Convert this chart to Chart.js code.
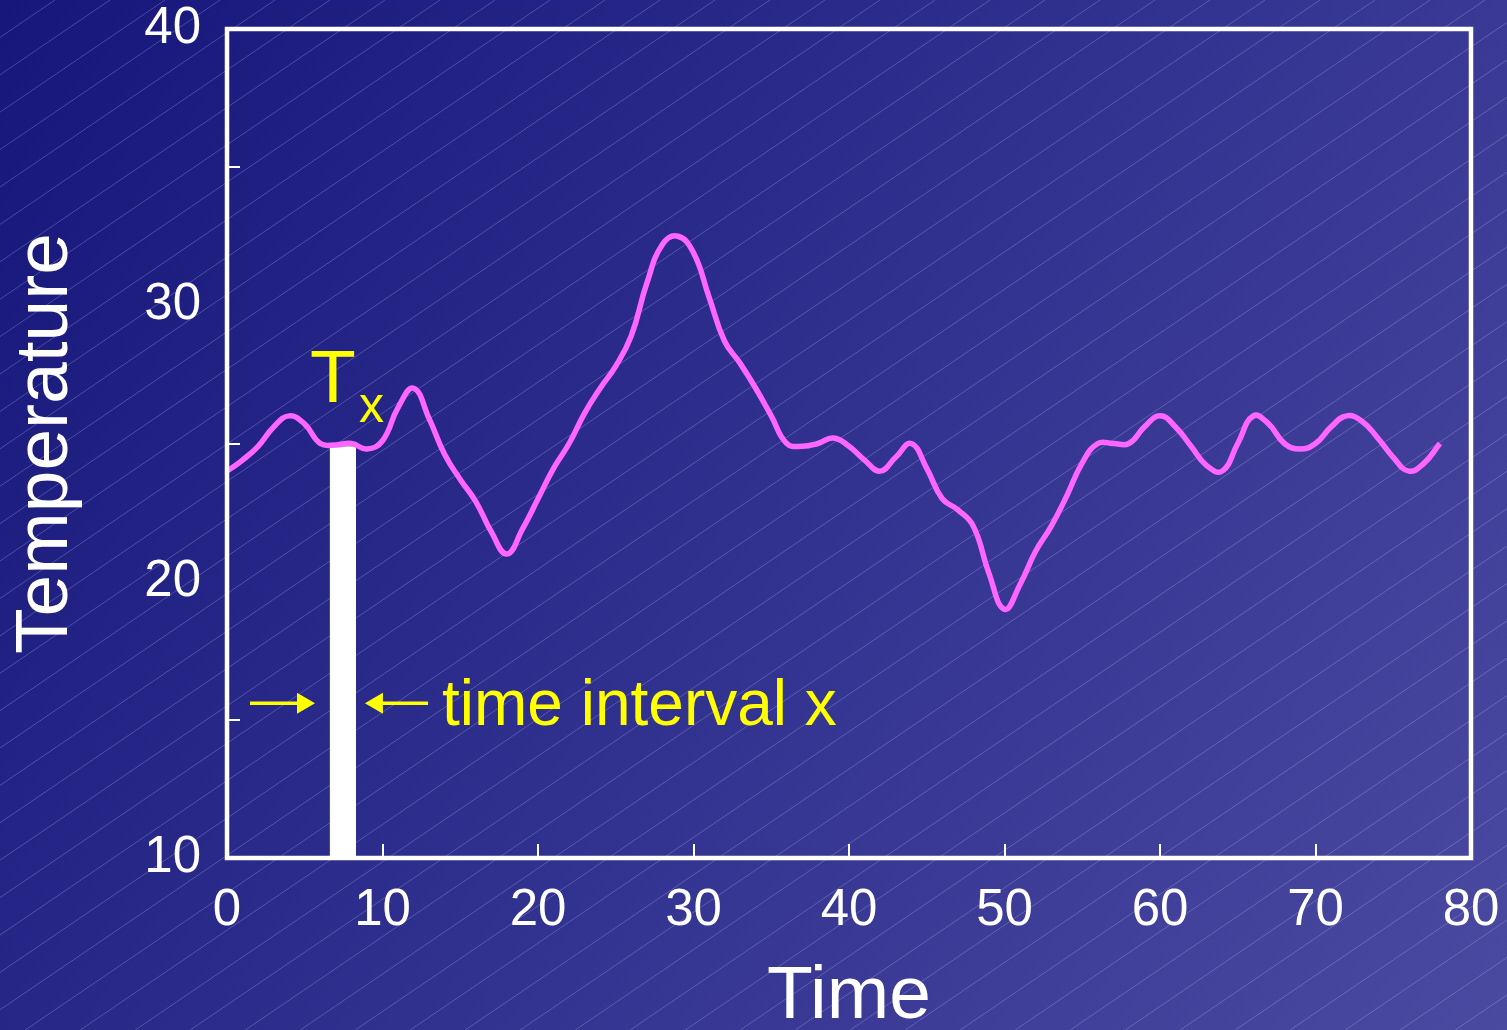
<!DOCTYPE html>
<html><head><meta charset="utf-8">
<script src="https://cdn.jsdelivr.net/npm/chart.js@4"></script>
<style>html,body{margin:0;padding:0;overflow:hidden;background:#2e2e8c}canvas{display:block}</style>
</head><body>
<canvas id="c" width="1507" height="1030" style="width:1507px;height:1030px"></canvas>
<script>
// ---- data ----
const times = [0,1,2,3,4,5,6,7,8,9,10,11,12,13,14,15,16,17,18,19,20,21,22,23,24,25,26,27,28,29,30,31,32,33,34,35,36,37,38,39,40,41,42,43,44,45,46,47,48,49,50,51,52,53,54,55,56,57,58,59,60,61,62,63,64,65,66,67,68,69,70,71,72,73,74,75,76,77,78];
const temperature = [24.0,24.4,24.9,25.6,26.0,25.7,25.0,24.95,25.0,24.8,25.1,26.3,27.0,25.9,24.6,23.7,22.9,21.8,21.0,21.9,23.0,24.1,25.0,26.1,27.0,27.8,28.9,30.8,32.2,32.5,31.9,30.3,28.7,27.9,27.0,26.0,25.0,24.9,25.0,25.2,24.9,24.4,24.0,24.5,25.0,24.1,23.0,22.6,22.0,20.3,19.0,19.9,21.1,22.0,23.1,24.3,25.0,25.0,25.0,25.6,26.0,25.6,24.9,24.2,24.0,25.0,26.0,25.7,25.0,24.8,25.0,25.6,26.0,25.8,25.2,24.5,24.0,24.3,25.0];
const xTickValues = [0,10,20,30,40,50,60,70,80];
const yTickLabels = [10,20,30,40];
const yMinorTicks = [15,25,35];
const intervalTimes = [6.6,8.3];
const intervalTemps = [24.9,24.9];
// annotation anchors (data coordinates)
const txLabel = {x:5.53, y:26.5, text:'T'};
const txSub = {x:8.55, y:25.78, text:'x'};
const arrowRight = {from:1.48, to:5.66, y:15.6};
const arrowLeft = {from:12.93, to:8.87, y:15.6};
const intervalLabel = {x:14.02, y:14.81, text:'time interval x'};

const curvePoints = times.map((t,i)=>({x:t, y:temperature[i]}));
const barPoints = intervalTimes.map((t,i)=>({x:t, y:intervalTemps[i]}));

const FONT = '"Liberation Sans", Arial, sans-serif';
const YELLOW = '#ffff00';

const bgPlugin = {
  id:'bg',
  beforeDraw(chart){
    const ctx = chart.ctx, W = chart.width, H = chart.height;
    ctx.save();
    const g = ctx.createLinearGradient(0,0,W,H);
    g.addColorStop(0,'#16167b');
    g.addColorStop(0.5,'#30308f');
    g.addColorStop(1,'#4b4aa1');
    ctx.fillStyle = g;
    ctx.fillRect(0,0,W,H);
    ctx.strokeStyle = 'rgba(210,210,255,0.25)';
    ctx.lineWidth = 1;
    const slope = 0.68, sp = 55;
    for (let x0 = -H/slope; x0 < W + 50; x0 += sp) {
      ctx.beginPath();
      ctx.moveTo(x0, H);
      ctx.lineTo(x0 + H/slope, 0);
      ctx.stroke();
    }
    ctx.restore();
  }
};

function arrow(ctx, x1, x2, y){
  const dir = Math.sign(x2 - x1);
  const head = 18, hh = 10.5;
  ctx.beginPath();
  ctx.moveTo(x1, y);
  ctx.lineTo(x2 - dir*head, y);
  ctx.stroke();
  ctx.beginPath();
  ctx.moveTo(x2, y);
  ctx.lineTo(x2 - dir*head, y - hh);
  ctx.lineTo(x2 - dir*head, y + hh);
  ctx.closePath();
  ctx.fill();
}

const framePlugin = {
  id:'frame',
  afterDraw(chart){
    const ctx = chart.ctx, a = chart.chartArea;
    const xs = chart.scales.x, ys = chart.scales.y;
    ctx.save();
    ctx.strokeStyle = '#ffffff';
    ctx.lineWidth = 2;
    xTickValues.slice(1, -1).forEach(v=>{
      const px = Math.round(xs.getPixelForValue(v));
      ctx.beginPath(); ctx.moveTo(px, a.bottom); ctx.lineTo(px, a.bottom - 14); ctx.stroke();
    });
    yMinorTicks.forEach(v=>{
      const py = Math.round(ys.getPixelForValue(v));
      ctx.beginPath(); ctx.moveTo(a.left, py); ctx.lineTo(a.left + 13, py); ctx.stroke();
    });
    ctx.lineWidth = 4.5;
    ctx.strokeRect(a.left, a.top, a.right - a.left, a.bottom - a.top);
    ctx.fillStyle = YELLOW;
    ctx.strokeStyle = YELLOW;
    ctx.textBaseline = 'alphabetic';
    ctx.textAlign = 'left';
    ctx.font = '75px ' + FONT;
    ctx.fillText(txLabel.text, xs.getPixelForValue(txLabel.x) - 3, ys.getPixelForValue(txLabel.y));
    ctx.font = '50px ' + FONT;
    ctx.fillText(txSub.text, xs.getPixelForValue(txSub.x) - 1, ys.getPixelForValue(txSub.y));
    ctx.font = '64px ' + FONT;
    ctx.fillText(intervalLabel.text, xs.getPixelForValue(intervalLabel.x) - 3, ys.getPixelForValue(intervalLabel.y));
    ctx.lineWidth = 3.5;
    arrow(ctx, xs.getPixelForValue(arrowRight.from), xs.getPixelForValue(arrowRight.to), ys.getPixelForValue(arrowRight.y));
    arrow(ctx, xs.getPixelForValue(arrowLeft.from), xs.getPixelForValue(arrowLeft.to), ys.getPixelForValue(arrowLeft.y));
    ctx.restore();
  }
};

new Chart(document.getElementById('c'), {
  type:'line',
  data:{
    datasets:[
      {label:'Temperature', data:curvePoints, borderColor:'#ff66ff', borderWidth:5.5,
       pointRadius:0, tension:0.45, capBezierPoints:true, fill:false},
      {label:'Interval', data:barPoints, borderWidth:0, borderColor:'rgba(0,0,0,0)',
       backgroundColor:'#ffffff', pointRadius:0, fill:'start', tension:0}
    ]
  },
  options:{
    responsive:false, animation:false, devicePixelRatio:1,
    layout:{padding:{left:0, top:29, right:36, bottom:0}},
    plugins:{legend:{display:false}, tooltip:{enabled:false}},
    scales:{
      x:{type:'linear', min:0, max:80,
         afterFit(s){ s.height = 172; s.paddingLeft = 0; s.paddingRight = 0; },
         grid:{display:false, drawTicks:false}, border:{display:false},
         ticks:{stepSize:10, color:'#ffffff', font:{size:51, family:FONT}, padding:22, maxRotation:0, autoSkip:false},
         title:{display:true, text:'Time', color:'#ffffff', font:{size:75, family:FONT, lineHeight:0.8}, padding:{top:0, bottom:3}}
      },
      y:{type:'linear', min:10, max:40,
         afterFit(s){ s.width = 227; s.paddingTop = 0; s.paddingBottom = 0; },
         grid:{display:false, drawTicks:false}, border:{display:false},
         ticks:{stepSize:5, color:'#ffffff', font:{size:51, family:FONT}, padding:26,
                callback:(v)=> yTickLabels.includes(v) ? String(v) : ''},
         title:{display:true, text:'Temperature', color:'#ffffff', font:{size:75, family:FONT, lineHeight:0.8}, padding:{top:16, bottom:0}}
      }
    }
  },
  plugins:[bgPlugin, framePlugin]
});
</script>
</body></html>
